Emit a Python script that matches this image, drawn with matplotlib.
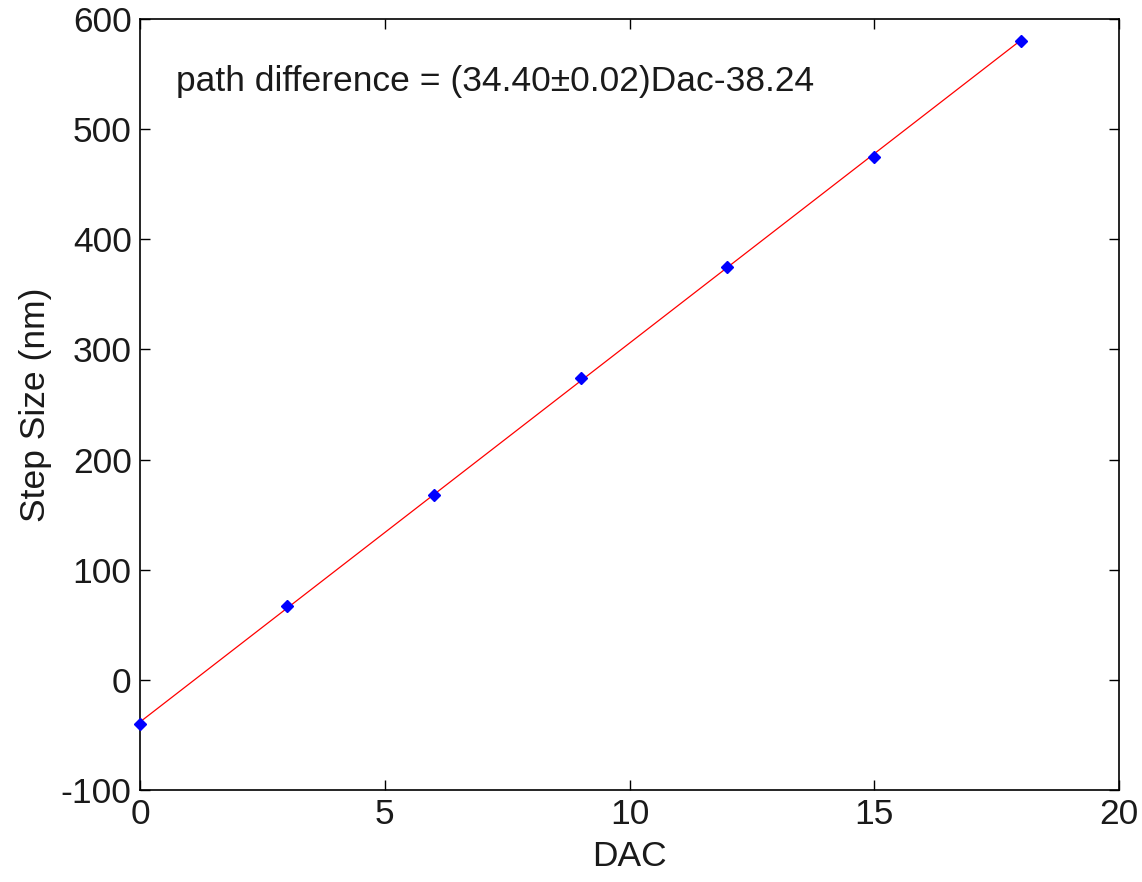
import matplotlib
matplotlib.use("Agg")
import matplotlib.pyplot as plt
import numpy as np

# Measured step sizes for each DAC setting
dac = [0, 3, 6, 9, 12, 15, 18]
step_nm = [-40, 67, 168, 274, 375, 475, 580]

# Linear fit parameters
slope = 34.40
intercept = -38.24
fit_label = "path difference = (34.40\u00b10.02)Dac-38.24"

xticks = [0, 5, 10, 15, 20]
yticks = [-100, 0, 100, 200, 300, 400, 500, 600]

plt.rcParams['font.family'] = ['Liberation Sans', 'DejaVu Sans']
plt.rcParams['axes.unicode_minus'] = False

text_color = '#1a1a1a'
fs = 25.5

fig = plt.figure(figsize=(11.42, 8.82), dpi=100)
ax = fig.add_axes([0.1226, 0.1043, 0.8574, 0.8742])

fit_x = np.array([dac[0], dac[-1]], dtype=float)
ax.plot(fit_x, slope * fit_x + intercept, color='red', lw=0.9, zorder=2)
ax.plot(dac, step_nm, linestyle='none', marker='D', ms=6.5,
        color='blue', mec='blue', zorder=3, clip_on=False)

ax.set_xlim(0, 20)
ax.set_ylim(-100, 600)
ax.set_xticks(xticks)
ax.set_yticks(yticks)
ax.tick_params(direction='in', length=7, width=1.0, labelsize=fs,
               top=True, right=True, pad=6, colors='black',
               labelcolor=text_color)
for sp in ax.spines.values():
    sp.set_linewidth(1.2)

ax.set_xlabel("DAC", fontsize=fs, labelpad=6, color=text_color)
ax.set_ylabel("Step Size (nm)", fontsize=fs, labelpad=6, color=text_color)

ax.text(0.735, 543, fit_label, fontsize=fs, ha='left', va='center',
        color=text_color)

fig.savefig("out.png", dpi=100, facecolor='white')
